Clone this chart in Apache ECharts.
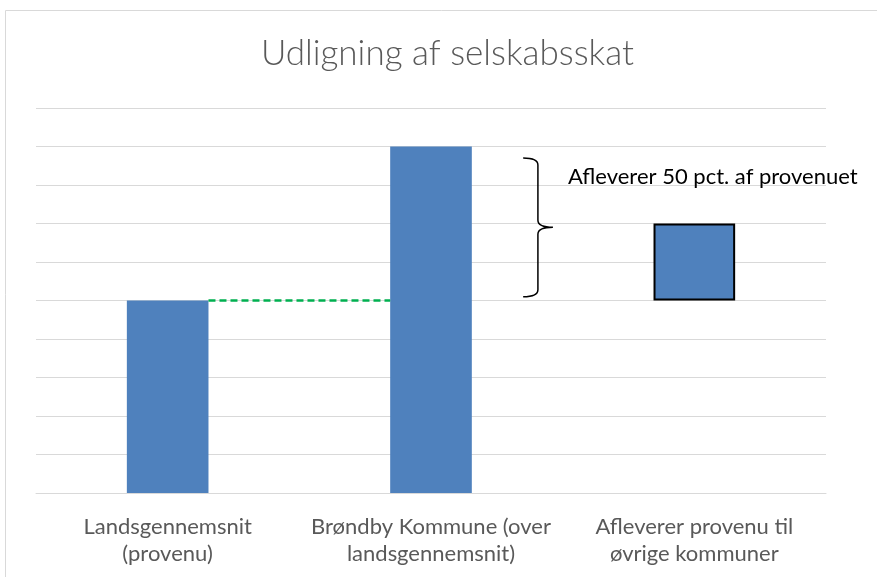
<!DOCTYPE html>
<html><head><meta charset="utf-8">
<script src="https://cdn.jsdelivr.net/npm/echarts@6/dist/echarts.min.js"></script>
<style>html,body{margin:0;padding:0;background:#fff;}#c{width:877px;height:577px;}</style>
</head><body><div id="c"></div>
<script>
const categories = ['Landsgennemsnit\n(provenu)', 'Brøndby Kommune (over\nlandsgennemsnit)', 'Afleverer provenu til\nøvrige kommuner'];
const baseValues = [0, 0, 5];       // invisible offset
const barValues = [5, 9, 2];        // visible bar heights
const dashLine = [[0, 5]];          // from category 0 to 1 at value 5
const brace = [[1, 5.1, 8.7, 6.9, 8.2]]; // after category 1: bottom, top, tip, text value
const braceText = 'Afleverer 50 pct. af provenuet';
const titleText = 'Udligning af selskabsskat';

const chart = echarts.init(document.getElementById('c'), null, {renderer: 'canvas'});
const BAR_RATIO = 0.31;
const option = {
  animation: false,
  title: {text: titleText, left: 256, top: 31,
    textStyle: {fontFamily: 'Lato', fontSize: 35, fontWeight: 300, color: '#595959'}},
  graphic: [{type: 'rect', shape: {x: 5.5, y: 10.5, width: 900, height: 600},
    style: {fill: 'none', stroke: '#d9d9d9', lineWidth: 1}, silent: true, z: -10}],
  grid: {left: 36, right: 51, top: 108, bottom: 84},
  xAxis: {type: 'category', data: categories,
    axisLine: {lineStyle: {color: '#d9d9d9', width: 1}}, axisTick: {show: false},
    axisLabel: {color: '#595959', fontFamily: 'Lato', fontSize: 22, lineHeight: 27, margin: 20, interval: 0}},
  yAxis: {type: 'value', min: 0, max: 10, interval: 1,
    axisLabel: {show: false}, axisLine: {show: false}, axisTick: {show: false},
    splitLine: {lineStyle: {color: '#d9d9d9', width: 1}}},
  series: [
    {type: 'bar', stack: 's', data: baseValues, barWidth: '31%', itemStyle: {color: 'transparent'}, silent: true},
    {type: 'bar', stack: 's', barWidth: '31%',
      data: barValues.map((v, i) => i === 2
        ? {value: v, itemStyle: {color: '#4f81bd', borderColor: '#000', borderWidth: 2}}
        : {value: v, itemStyle: {color: '#4f81bd'}})},
    {type: 'custom', data: dashLine, z: 5,
      renderItem: function (params, api) {
        const c = api.value(0), v = api.value(1);
        const p1 = api.coord([c, v]), p2 = api.coord([c + 1, v]);
        const bw = api.size([1, 0])[0] * BAR_RATIO;
        return {type: 'line', shape: {x1: p1[0] + bw / 2, y1: p1[1], x2: p2[0] - bw / 2, y2: p2[1]},
          style: {stroke: '#00b050', lineWidth: 2.5, lineDash: [7, 4]}};
      }},
    {type: 'custom', data: brace, z: 5,
      renderItem: function (params, api) {
        const c = api.value(0);
        const band = api.size([1, 0])[0];
        const cx = api.coord([c, 0])[0];
        const yb = api.coord([c, api.value(1)])[1];
        const yt = api.coord([c, api.value(2)])[1];
        const ym = api.coord([c, api.value(3)])[1];
        const ytx = api.coord([c, api.value(4)])[1];
        const x0 = cx + 0.35 * band, xv = cx + 0.406 * band, xt = cx + 0.463 * band;
        const r = 7;
        const d = `M${x0} ${yt} Q${xv} ${yt} ${xv} ${yt + r} L${xv} ${ym - r} Q${xv} ${ym} ${xt} ${ym} ` +
                  `M${xt} ${ym} Q${xv} ${ym} ${xv} ${ym + r} L${xv} ${yb - r} Q${xv} ${yb} ${x0} ${yb}`;
        return {type: 'group', children: [
          {type: 'path', shape: {pathData: d}, style: {fill: 'none', stroke: '#000', lineWidth: 1.5}},
          {type: 'text', x: cx + 0.52 * band, y: ytx,
            style: {text: braceText, fill: '#000', font: '22px Lato', textVerticalAlign: 'middle', verticalAlign: 'middle'}}
        ]};
      }}
  ]
};
chart.setOption(option);
</script></body></html>
